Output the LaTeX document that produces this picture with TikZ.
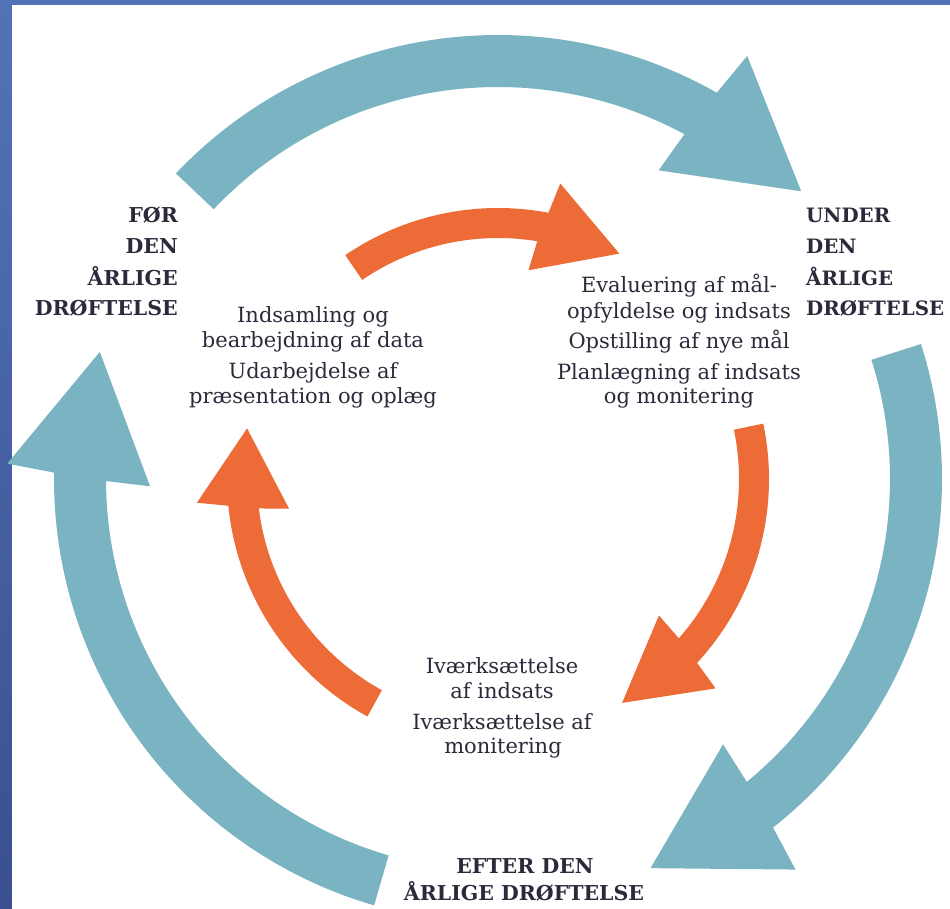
\documentclass[tikz,border=0pt]{standalone}
\usepackage{fontspec}
\setmainfont{DejaVu Serif}
\definecolor{ringblue}{HTML}{7AB3C1}
\definecolor{ringorange}{HTML}{ED6B36}
\definecolor{txt}{HTML}{2B2A3A}
\definecolor{frametop}{HTML}{5273B8}
\definecolor{framebot}{HTML}{3A508F}
\def\cx{498}
\def\cy{479}
% #1 colour, #2 inner r, #3 outer r, #4 head inner r, #5 head outer r,
% #6 tail angle, #7 head base angle, #8 tip angle, #9 tilt
\newcommand\ringarrow[9]{%
  \pgfmathsetmacro\arA{#7+0.35*#9}%
  \pgfmathsetmacro\arB{#7-0.4*#9}%
  \pgfmathsetmacro\arC{#7+#9}%
  \pgfmathsetmacro\arD{#7-#9}%
  \pgfmathsetmacro\arM{(#2+#3)/2}%
  \fill[#1] plot[domain=#6:\arA,samples=80,variable=\t] ({\cx+#3*cos(\t)},{\cy+#3*sin(\t)})
    -- ({\cx+#5*cos(\arC)},{\cy+#5*sin(\arC)})
    -- ({\cx+\arM*cos(#8)},{\cy+\arM*sin(#8)})
    -- ({\cx+#4*cos(\arD)},{\cy+#4*sin(\arD)})
    -- plot[domain=\arB:#6,samples=80,variable=\t] ({\cx+#2*cos(\t)},{\cy+#2*sin(\t)})
    -- cycle;}
\begin{document}
\begin{tikzpicture}[x=1pt,y=-1pt,
  lbl/.style={font=\bfseries\fontsize{20.5}{24}\selectfont, text=txt, inner sep=0},
  lblr/.style={font=\bfseries\fontsize{19.8}{24}\selectfont, text=txt, inner sep=0, anchor=base west},
  body/.style={font=\fontsize{21}{25}\selectfont, text=txt, inner sep=0, anchor=base}]
\useasboundingbox (0,0) rectangle (950,909);
\shade[top color=frametop, bottom color=framebot] (0,0) rectangle (950,909);
\fill[white] (12,5) rectangle (950,909);

% outer (blue) ring arrows
\ringarrow{ringblue}{392}{444}{348}{491}{-136.5}{-61}{-43.5}{1.5}
\ringarrow{ringblue}{392}{444}{348}{491}{-17.7}{51.2}{68.6}{1.5}
\ringarrow{ringblue}{392}{444}{348}{491}{106.2}{180.3}{197.7}{1.5}

% inner (orange) ring arrows
\ringarrow{ringorange}{241}{271}{211}{302}{-124.3}{-79.9}{-61.7}{1.8}
\ringarrow{ringorange}{241}{271}{211}{302}{-11.8}{42.1}{61.0}{1.8}
\ringarrow{ringorange}{241}{271}{211}{302}{118.8}{173.7}{191.4}{1.8}

% outer labels
\node[lbl, anchor=base east] (fa) at (178,223) {FØR};
\node[lbl, anchor=base east] (fb) at (178,254) {DEN};
\node[lbl, anchor=base east] (fc) at (178,286) {ÅRLIGE};
\node[lbl, anchor=base east] (fd) at (178,316) {DRØFTELSE};

\node[lblr] (ua) at (806,223) {UNDER};
\node[lblr] (ub) at (806,254) {DEN};
\node[lblr] (uc) at (806,286) {ÅRLIGE};
\node[lblr] (ud) at (806,316) {DRØFTELSE};

\node[lbl, anchor=base] (ea) at (525,873) {EFTER DEN};
\node[lbl, anchor=base] (eb) at (524,900) {ÅRLIGE DRØFTELSE};

% inner texts
\node[body] (la) at (313,322) {Indsamling og};
\node[body] (lb) at (313,347) {bearbejdning af data};
\node[body] (lc) at (313,378) {Udarbejdelse af};
\node[body] (ld) at (313,403) {præsentation og oplæg};

\node[body] (ra) at (679,293) {Evaluering af mål-};
\node[body] (rb) at (679,318) {opfyldelse og indsats};
\node[body] (rc) at (679,348) {Opstilling af nye mål};
\node[body] (rd) at (679,379) {Planlægning af indsats};
\node[body] (re) at (679,403) {og monitering};

\node[body] (ba) at (502,673) {Iværksættelse};
\node[body] (bb) at (502,698) {af indsats};
\node[body] (bc) at (502,729) {Iværksættelse af};
\node[body] (bd) at (503,753) {monitering};
\end{tikzpicture}
\end{document}
